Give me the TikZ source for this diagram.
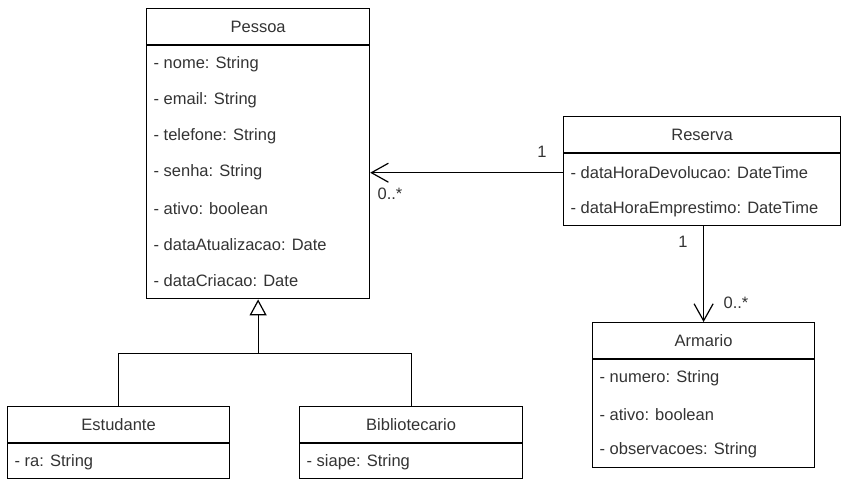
\documentclass[tikz,border=0pt]{standalone}
\usepackage{fontspec}
\setmainfont{Liberation Sans}
\usetikzlibrary{calc, positioning, arrows.meta}

\begin{document}
\begin{tikzpicture}[
			x = 1pt, y = -1pt, line width = 1.2pt,
			every node/.style = {font = \fontsize{16.5}{19}\selectfont, text = black!80},
			classhead/.style = {draw, rectangle, anchor = north west, minimum height = 36pt, inner sep = 0pt},
			classbody/.style = {draw, rectangle, anchor = north, inner sep = 0pt},
			attr/.style = {anchor = west, inner sep = 0pt},
			mult/.style = {inner sep = 0pt},
			assoc/.style = {-{Straight Barb[length = 17pt, width = 19pt]}},
			inherit/.style = {-{Triangle[open, length = 16pt, width = 17pt]}}]
			\useasboundingbox (0, 0) rectangle (851, 482);

			% Classes
			\node[classhead, minimum width = 223pt] (pessoa) at (146, 8) {Pessoa};
			\node[classbody, minimum width = 223pt, minimum height = 253pt] (pessoaBody) at (pessoa.south) {};
			\foreach \txt [count = \i] in {nome: String, email: String, telefone: String, senha: String, ativo: boolean, dataAtualizacao: Date, dataCriacao: Date}
				\node[attr] (pessoa-\i) at ($(pessoaBody.north west) + (7, 36*\i - 17)$) {- \txt};

			\node[classhead, minimum width = 277pt] (reserva) at (563, 116) {Reserva};
			\node[classbody, minimum width = 277pt, minimum height = 72pt] (reservaBody) at (reserva.south) {};
			\foreach \txt [count = \i] in {dataHoraDevolucao: DateTime, dataHoraEmprestimo: DateTime}
				\node[attr] (reserva-\i) at ($(reservaBody.north west) + (7, 36.5*\i - 17)$) {- \txt};

			\node[classhead, minimum width = 222pt] (armario) at (592, 322) {Armario};
			\node[classbody, minimum width = 222pt, minimum height = 108pt] (armarioBody) at (armario.south) {};
			\foreach \txt [count = \i] in {numero: String, ativo: boolean, observacoes: String}
				\node[attr] (armario-\i) at ($(armarioBody.north west) + (7, 36*\i - 17)$) {- \txt};

			\node[classhead, minimum width = 222pt] (estudante) at (7, 406) {Estudante};
			\node[classbody, minimum width = 222pt, minimum height = 35pt] (estudanteBody) at (estudante.south) {};
			\node[attr] (estudante-1) at ($(estudanteBody.north west) + (7, 19)$) {- ra: String};

			\node[classhead, minimum width = 223pt] (bibliotecario) at (299, 406) {Bibliotecario};
			\node[classbody, minimum width = 223pt, minimum height = 35pt] (bibliotecarioBody) at (bibliotecario.south) {};
			\node[attr] (bibliotecario-1) at ($(bibliotecarioBody.north west) + (7, 19)$) {- siape: String};

			% Associations
			\draw[assoc] (reserva-1.west -| reservaBody.west) -- (reserva-1.west -| pessoaBody.east);
			\draw[assoc] (armario.north |- reservaBody.south) -- (armario.north);

			% Generalization
			\coordinate (joint) at ($(pessoaBody.south) + (0, 54)$);
			\draw (estudante.north) |- (joint) -| (bibliotecario.north);
			\draw[inherit] (joint) -- (pessoaBody.south);

			% Labels
			\node[mult] (reservaOne) at (542, 152) {1};
			\node[mult] (pessoaMany) at (390, 194) {0..*};
			\node[mult] (reservaOneB) at (683, 242) {1};
			\node[mult] (armarioMany) at (736, 303) {0..*};
		\end{tikzpicture}
\end{document}
